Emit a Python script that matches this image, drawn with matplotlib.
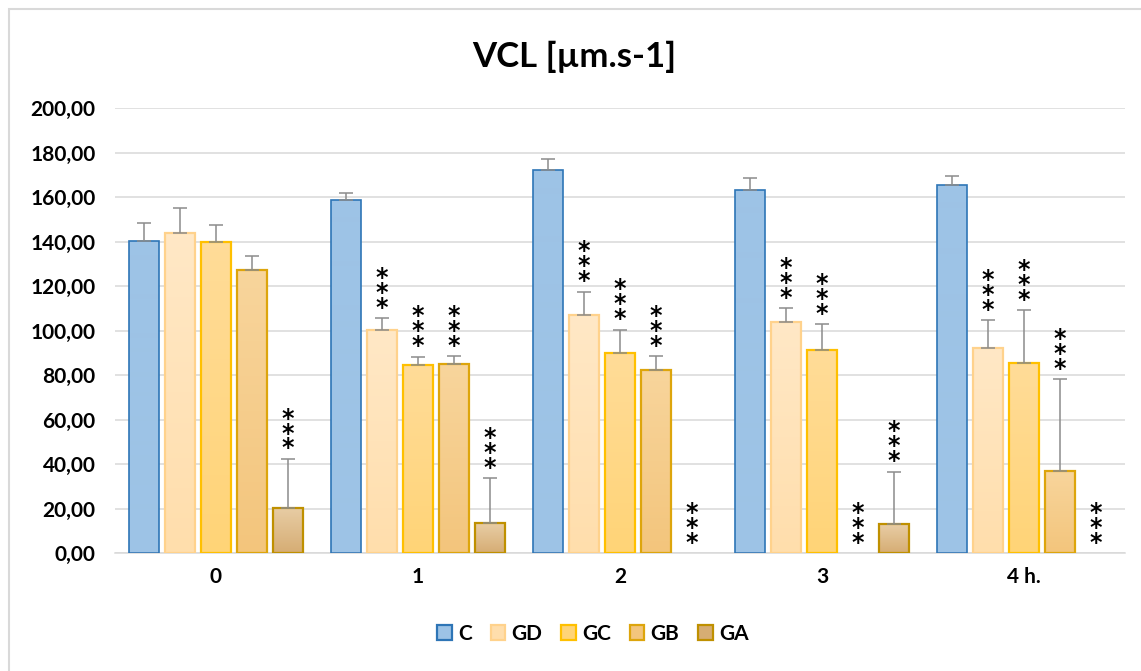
import numpy as np
import matplotlib
matplotlib.use("Agg")
import matplotlib.pyplot as plt
from matplotlib.patches import Patch, Rectangle
from matplotlib.colors import to_rgb

plt.rcParams['font.family'] = ['Lato', 'DejaVu Sans']

# data
categories = ['0', '1', '2', '3', '4 h.']
series = ['C', 'GD', 'GC', 'GB', 'GA']

C = [140.3, 158.5, 172.0, 163.0, 165.3]
C_err = [8.0, 3.5, 5.0, 5.6, 4.0]
GD = [144.0, 100.2, 107.0, 103.7, 92.2]
GD_err = [11.0, 5.2, 10.4, 6.2, 12.3]
GC = [139.6, 84.3, 89.9, 91.1, 85.4]
GC_err = [8.0, 4.0, 10.5, 11.7, 23.7]
GB = [127.0, 84.8, 82.4, 0.0, 37.0]
GB_err = [6.5, 3.6, 6.0, 0.0, 41.0]
GA = [20.4, 13.3, 0.0, 12.9, 0.0]
GA_err = [21.8, 20.3, 0.0, 23.7, 0.0]

# significance marks (***) per series and category
C_sig = [False, False, False, False, False]
GD_sig = [False, True, True, True, True]
GC_sig = [False, True, True, True, True]
GB_sig = [False, True, True, True, True]
GA_sig = [True, True, True, True, True]

values = [C, GD, GC, GB, GA]
errors = [C_err, GD_err, GC_err, GB_err, GA_err]
sigs = [C_sig, GD_sig, GC_sig, GB_sig, GA_sig]

# (top colour, bottom colour, edge colour)
styles = [
    ('#9DC3E6', '#9DC3E6', '#2E75B6'),
    ('#FFE8C6', '#FFDEAC', '#FFD28C'),
    ('#FFDC98', '#FFD477', '#FFC000'),
    ('#F8D59C', '#F3C57C', '#DDA50C'),
    ('#E8CDA5', '#D6AD74', '#BF9000'),
]
edge_lw = [1.2, 1.6, 1.6, 1.6, 1.6]

fig = plt.figure(figsize=(11.41, 6.71), dpi=100)
ax = fig.add_axes([115 / 1141, 1 - 553 / 671, 1010 / 1141, 445 / 671])

x = np.arange(len(categories))
pitch = 36 / 202
width = 30 / 202

for i in range(len(series)):
    top, bot, edge = styles[i]
    xs = x + (i - 2) * pitch
    vals = np.array(values[i])
    errs = np.array(errors[i])
    for j in range(len(categories)):
        if vals[j] > 0:
            b = ax.bar(xs[j], vals[j], width, color=bot, zorder=2, linewidth=0)[0]
            grad = np.linspace(0, 1, 64)[:, None, None]
            img = (1 - grad) * np.array(to_rgb(top)) + grad * np.array(to_rgb(bot))
            im = ax.imshow(img, extent=[xs[j] - width / 2, xs[j] + width / 2, 0, vals[j]],
                           aspect='auto', origin='upper', zorder=2.5)
            im.set_clip_path(b)
            ax.bar(xs[j], vals[j], width, fill=False, edgecolor=edge,
                   linewidth=edge_lw[i], zorder=3)
            ax.errorbar(xs[j], vals[j], yerr=[[0], [errs[j]]], fmt='none',
                        ecolor='#8C8C8C', elinewidth=1.1, capsize=5, capthick=1.1, zorder=4)
        if sigs[i][j]:
            base = vals[j] + errs[j]
            off = -1 if vals[j] > 0 else -1.5
            ax.annotate('*\n*\n*', xy=(xs[j], base), xytext=(0, off),
                        textcoords='offset points', ha='center', va='bottom',
                        fontsize=17, fontweight='bold', color='black', linespacing=0.52,
                        family='DejaVu Sans', zorder=5)

ax.set_xlim(-0.5, len(categories) - 0.5)
ax.set_ylim(0, 200)
ax.set_yticks(np.arange(0, 201, 20))
ax.set_yticklabels([f'{v:.2f}'.replace('.', ',') for v in np.arange(0, 201, 20)])
ax.set_xticks(x)
ax.set_xticklabels(categories)
ax.tick_params(axis='both', length=0, labelsize=15, colors='black')
ax.tick_params(axis='y', pad=14)
ax.tick_params(axis='x', pad=10)
for lab in ax.get_xticklabels() + ax.get_yticklabels():
    lab.set_fontweight('bold')
ax.grid(axis='y', color='#D9D9D9', linewidth=1.1, zorder=0)
ax.set_axisbelow(True)
for s in ['top', 'right', 'left']:
    ax.spines[s].set_visible(False)
ax.spines['bottom'].set_color('#D9D9D9')
ax.spines['bottom'].set_linewidth(1.1)

fig.text(574 / 1141, 1 - 57 / 671, 'VCL [µm.s-1]', ha='center', va='center',
         fontsize=25, fontweight='bold')

handles = [Patch(facecolor=styles[i][1], edgecolor=styles[i][2], linewidth=1.6, label=series[i])
           for i in range(len(series))]
leg = fig.legend(handles=handles, loc='center', bbox_to_anchor=(593 / 1141, 1 - 634 / 671),
                 ncol=5, frameon=False, handlelength=0.7, handleheight=0.7,
                 handletextpad=0.3, columnspacing=0.9, prop={'size': 15, 'weight': 'bold'})

fig.patches.append(Rectangle((9 / 1141, -0.1), 1.2, 0.1 + 662 / 671, transform=fig.transFigure,
                             fill=False, edgecolor='#D9D9D9', linewidth=1.5))

fig.savefig('out.png', dpi=100)
